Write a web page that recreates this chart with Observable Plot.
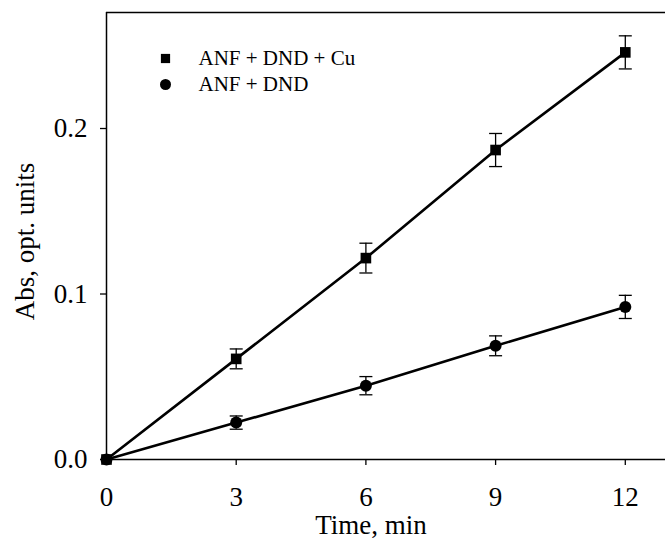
<!DOCTYPE html>
<html>
<head>
<meta charset="utf-8">
<script src="https://cdn.jsdelivr.net/npm/d3@7"></script>
<script src="https://cdn.jsdelivr.net/npm/@observablehq/plot@0.6"></script>
<style>
  html, body { margin: 0; padding: 0; background: #fff; }
  svg { display: block; }
  svg g[aria-label="x-axis tick label"], svg g[aria-label="y-axis tick label"] { font-size: 27px !important; }
  svg g[aria-label="x-axis tick label"] text, svg g[aria-label="y-axis tick label"] text { font-size: 27px !important; }
</style>
</head>
<body>
<div id="chart"></div>
<script>
const times = [0, 3, 6, 9, 12];
const seriesNames = ["ANF + DND + Cu", "ANF + DND"];
const cuValues = [0, 0.0608, 0.1217, 0.187, 0.246];
const cuErrors = [0, 0.006, 0.009, 0.010, 0.010];
const dndValues = [0, 0.0223, 0.0446, 0.0687, 0.0922];
const dndErrors = [0, 0.004, 0.0055, 0.006, 0.007];
const xTicks = [0, 3, 6, 9, 12];
const yTicks = [0, 0.1, 0.2];
const xTitle = "Time, min";
const yTitle = "Abs, opt. units";

const cu = times.map((t, i) => ({t, v: cuValues[i], e: cuErrors[i]}));
const dnd = times.map((t, i) => ({t, v: dndValues[i], e: dndErrors[i]}));
const withErr = [...cu, ...dnd].filter(d => d.e > 0);

const capSymbol = {
  draw(context, size) {
    const r = Math.sqrt(size / Math.PI);
    context.moveTo(-r, 0);
    context.lineTo(r, 0);
  }
};

const font = "'Liberation Serif', 'Times New Roman', serif";

const chart = Plot.plot({
  width: 665,
  height: 540,
  marginLeft: 106,
  marginTop: 12,
  marginBottom: 81,
  marginRight: 0,
  style: {fontFamily: font, fontSize: "27px", color: "#000", background: "#fff"},
  x: {domain: [0, 12.93]},
  y: {domain: [0, 0.2701]},
  marks: [
    Plot.ruleY([0.2701], {stroke: "#000", strokeWidth: 1.5}),
    Plot.ruleY([0], {stroke: "#000", strokeWidth: 1.5}),
    Plot.ruleX([0], {stroke: "#000", strokeWidth: 1.5}),
    Plot.axisX({ticks: xTicks, tickSize: 6, tickPadding: 21, tickFormat: d => String(d), fontSize: 27, label: null, strokeWidth: 1.3}),
    Plot.axisY({ticks: yTicks, tickSize: 6, tickPadding: 13, tickFormat: d3.format(".1f"), fontSize: 27, label: null, strokeWidth: 1.3}),
    Plot.text([xTitle], {frameAnchor: "bottom", dx: -15, dy: 74, fontSize: 27, textAnchor: "middle", lineAnchor: "bottom"}),
    Plot.text([yTitle], {frameAnchor: "left", dx: -73, dy: 5.5, fontSize: 27, rotate: -90, textAnchor: "middle", lineAnchor: "bottom"}),
    Plot.line(cu, {x: "t", y: "v", stroke: "#000", strokeWidth: 2.6}),
    Plot.line(dnd, {x: "t", y: "v", stroke: "#000", strokeWidth: 2.6}),
    Plot.ruleX(withErr, {x: "t", y1: d => d.v - d.e, y2: d => d.v + d.e, stroke: "#000", strokeWidth: 1.3}),
    Plot.dot(withErr, {x: "t", y: d => d.v - d.e, symbol: capSymbol, r: 6.5, stroke: "#000", strokeWidth: 1.3, fill: "none"}),
    Plot.dot(withErr, {x: "t", y: d => d.v + d.e, symbol: capSymbol, r: 6.5, stroke: "#000", strokeWidth: 1.3, fill: "none"}),
    Plot.dot(cu, {x: "t", y: "v", symbol: "square", r: 6, fill: "#000", stroke: "none"}),
    Plot.dot(dnd, {x: "t", y: "v", symbol: "circle", r: 6, fill: "#000", stroke: "none"}),
    // legend
    Plot.dot([seriesNames[0]], {frameAnchor: "top-left", dx: 59, dy: 46, symbol: "square", r: 5.2, fill: "#000"}),
    Plot.dot([seriesNames[1]], {frameAnchor: "top-left", dx: 59, dy: 72, symbol: "circle", r: 5.5, fill: "#000"}),
    Plot.text([seriesNames[0]], {frameAnchor: "top-left", dx: 92, dy: 45.3, fontSize: 21, textAnchor: "start", lineAnchor: "middle"}),
    Plot.text([seriesNames[1]], {frameAnchor: "top-left", dx: 92, dy: 71.3, fontSize: 21, textAnchor: "start", lineAnchor: "middle"})
  ]
});

document.getElementById("chart").appendChild(chart);
</script>
</body>
</html>
